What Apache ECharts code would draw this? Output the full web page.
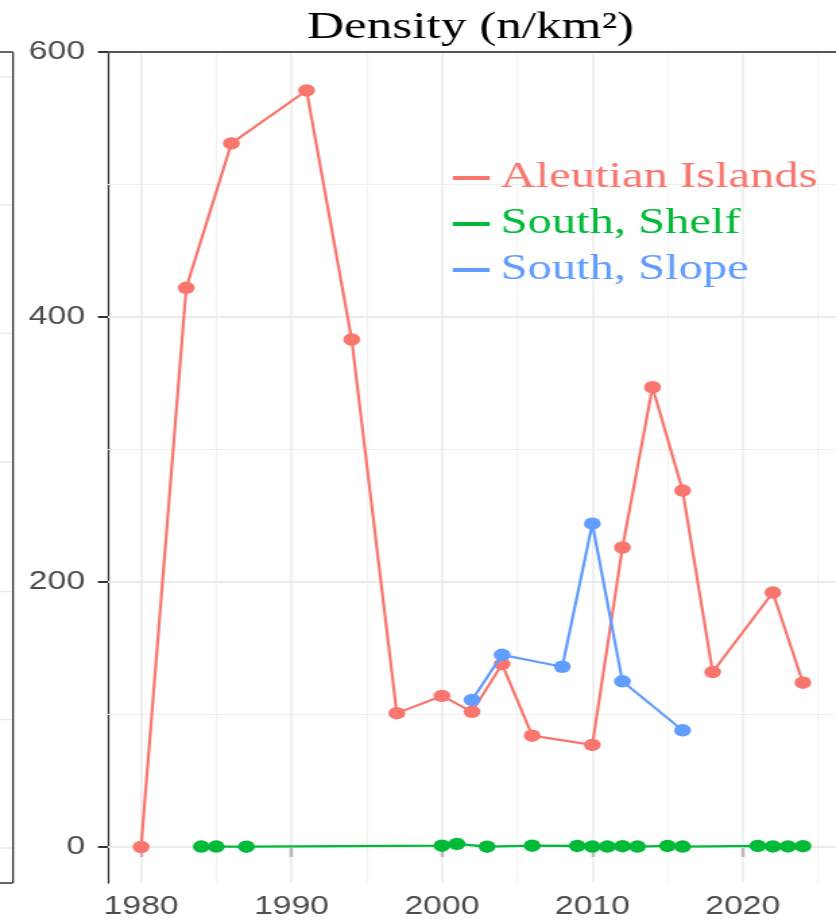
<!DOCTYPE html>
<html><head><meta charset="utf-8">
<script src="https://cdn.jsdelivr.net/npm/echarts@6/dist/echarts.min.js"></script>
<style>
html,body{margin:0;padding:0;background:#fff;overflow:hidden;}
#wrap{width:836px;height:922px;overflow:hidden;position:relative;background:#fff;}
#chart{width:620px;height:922px;transform:scaleX(1.3483871);transform-origin:0 0;}
</style></head><body><div id="wrap"><div id="chart"></div></div>
<script>
// ---- data ----
const seriesNames = ['Aleutian Islands', 'South, Shelf', 'South, Slope'];
const seriesColors = ['#F8766D', '#00BA38', '#619CFF'];
const yearsAleutian = [1980, 1983, 1986, 1991, 1994, 1997, 2000, 2002, 2004, 2006, 2010, 2012, 2014, 2016, 2018, 2022, 2024];
const densityAleutian = [0, 422, 531, 571, 383, 101, 114, 102, 138, 84, 77, 226, 347, 269, 132, 192, 124];
const yearsShelf = [1984, 1985, 1987, 2000, 2001, 2003, 2006, 2009, 2010, 2011, 2012, 2013, 2015, 2016, 2021, 2022, 2023, 2024];
const densityShelf = [0.3, 0.3, 0.2, 1.0, 2.3, 0.2, 1.0, 0.8, 0.3, 0.3, 0.6, 0.3, 0.8, 0.3, 0.8, 0.4, 0.4, 0.6];
const yearsSlope = [2002, 2004, 2008, 2010, 2012, 2016];
const densitySlope = [111, 145, 136, 244, 125, 88];
const xTickLabels = [1980, 1990, 2000, 2010, 2020];
const xMinorTicks = [1985, 1995, 2005, 2015, 2025];
const yTickLabels = [0, 200, 400, 600];
const yMinorTicks = [100, 300, 500];
const titleText = 'Density (n/km²)';

// ---- layout helpers (the figure is horizontally stretched) ----
const S = 836 / 620;
const sx = v => v / S;

const pairs = (xs, ys) => xs.map((x, i) => [x, ys[i]]);
const seriesData = [pairs(yearsAleutian, densityAleutian), pairs(yearsShelf, densityShelf), pairs(yearsSlope, densitySlope)];

const gridLines = [].concat(
  xMinorTicks.map(v => ({ xAxis: v, lineStyle: { color: '#efefef', width: 0.8, type: 'solid' } })),
  yMinorTicks.map(v => ({ yAxis: v, lineStyle: { color: '#efefef', width: 1.1, type: 'solid' } })),
  xTickLabels.map(v => ({ xAxis: v, lineStyle: { color: '#ebebeb', width: 1.5, type: 'solid' } })),
  yTickLabels.filter(v => v < 600).map(v => ({ yAxis: v, lineStyle: { color: '#ebebeb', width: 2, type: 'solid' } })),
  [{ yAxis: 600, lineStyle: { color: '#555', width: 1.8, type: 'solid' } }]
);

// neighbouring (cut-off) panel edge on the far left
const leftPanelY = [76.8, 205, 333.4, 462, 591.5, 719.5, 848];
const edgeX = sx(13);
const graphics = leftPanelY.map(y => ({ type: 'line', shape: { x1: 0, y1: y, x2: edgeX, y2: y }, style: { stroke: '#ebebeb', lineWidth: 1.5 }, silent: true }))
  .concat([
    { type: 'line', shape: { x1: edgeX, y1: 52, x2: edgeX, y2: 883 }, style: { stroke: '#333', lineWidth: 1.3 }, silent: true },
    { type: 'line', shape: { x1: 0, y1: 52, x2: edgeX, y2: 52 }, style: { stroke: '#555', lineWidth: 1.8 }, silent: true },
    { type: 'line', shape: { x1: 0, y1: 883, x2: edgeX, y2: 883 }, style: { stroke: '#333', lineWidth: 1.5 }, silent: true }
  ]);

const chart = echarts.init(document.getElementById('chart'));
const series = seriesNames.map((name, i) => ({
  name: name,
  type: 'line',
  data: seriesData[i],
  symbol: 'circle',
  symbolSize: 12.5,
  showSymbol: true,
  lineStyle: { width: 2.2, color: seriesColors[i] },
  itemStyle: { color: seriesColors[i] },
  emphasis: { disabled: true },
  z: 3 + i
}));
series[0].markLine = {
  silent: true, symbol: ['none', 'none'], label: { show: false }, z: 1, animation: false,
  data: gridLines
};

chart.setOption({
  animation: false,
  backgroundColor: '#fff',
  title: {
    text: titleText, left: sx(307), top: 9, padding: 0,
    textStyle: { fontFamily: 'Liberation Serif', fontSize: 38, fontWeight: 'normal', color: '#000' }
  },
  legend: {
    orient: 'vertical', left: sx(446), top: 155, itemWidth: sx(37), itemHeight: 4, itemGap: 10,
    icon: 'rect',
    data: seriesNames.map((n, i) => ({ name: n, textStyle: { color: seriesColors[i] } })),
    textStyle: { fontFamily: 'Liberation Serif', fontSize: 36, padding: [0, 0, 0, 3] }
  },
  grid: { left: sx(108), right: 620 - sx(838), top: 52, bottom: 39, containLabel: false },
  xAxis: {
    type: 'value', min: 1977.8, max: 2026.2,
    axisLine: { show: true, lineStyle: { color: '#333', width: 1.5 } },
    axisTick: { show: true, customValues: xTickLabels, length: 10, lineStyle: { color: '#333', width: 2.2 } },
    axisLabel: { customValues: xTickLabels, formatter: v => String(v), margin: 12, fontSize: 25, color: '#4d4d4d', fontFamily: 'Liberation Sans' },
    splitLine: { show: false }
  },
  yAxis: {
    type: 'value', min: -27.2, max: 600,
    axisLine: { show: true, lineStyle: { color: '#333', width: 1.3 } },
    axisTick: { show: true, customValues: yTickLabels, length: sx(10), lineStyle: { color: '#333', width: 2 } },
    axisLabel: { customValues: yTickLabels, formatter: v => String(v), margin: sx(23), fontSize: 25, color: '#4d4d4d', fontFamily: 'Liberation Sans', showMaxLabel: true, showMinLabel: true },
    splitLine: { show: false }
  },
  graphic: graphics,
  series: series
});
</script></body></html>
